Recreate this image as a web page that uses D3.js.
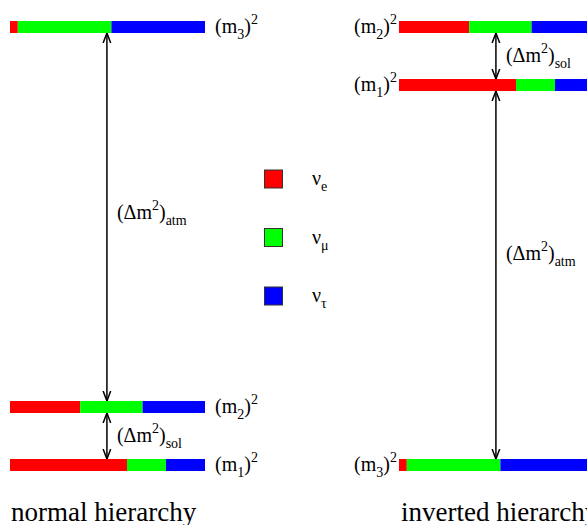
<!DOCTYPE html>
<html>
<head>
<meta charset="utf-8">
<script src="https://cdn.jsdelivr.net/npm/d3@7"></script>
<style>
  body { margin: 0; background: #fff; }
  svg, svg text { font-family: 'Liberation Serif', 'DejaVu Serif', serif; }
</style>
</head>
<body>
<div id="chart"></div>
<script>

// ======================= //
// DATA
// ======================= //

// flavours and their colours
var flavors = ["e", "μ", "τ"]
var flavorColors = ["#ff0000", "#00ff00", "#0000ff"]

// flavour content of each mass state (fractions)
var massStates = ["1", "2", "3"]
var fracE   = [0.60, 0.36, 0.04]
var fracMu  = [0.20, 0.32, 0.48]
var fracTau = [0.20, 0.32, 0.48]

// mass levels (arbitrary units, m² above the lowest state)
var levelsNormal   = [0, 1, 7.55]
var levelsInverted = [6.55, 7.55, 0]

// splittings drawn as arrows: [from state, to state, label]
var splitNormal   = [["1", "2", "sol"], ["2", "3", "atm"]]
var splitInverted = [["1", "2", "sol"], ["3", "1", "atm"]]

var hierarchyNames = ["normal hierarchy", "inverted hierarchy"]


// ======================= //
// SVG AREA AND SCALES
// ======================= //

var width = 587, height = 525
var serif = "'Liberation Serif', 'DejaVu Serif', serif"

var svg = d3.select("#chart")
  .append("svg")
    .attr("width", width)
    .attr("height", height)
    .attr("font-family", serif)

var y = d3.scaleLinear()
  .domain([0, 7.55])
  .range([465, 27])

var xNormal = d3.scaleLinear().domain([0, 1]).range([10, 205])
var xInverted = d3.scaleLinear().domain([0, 1]).range([399, 594])

var color = d3.scaleOrdinal().domain(flavors).range(flavorColors)

var barH = 12
var fontSize = 20

// stacked flavour fractions per mass state
var table = massStates.map(function(m, i) {
  return { state: m, "e": fracE[i], "μ": fracMu[i], "τ": fracTau[i] }
})
var stacked = d3.stack().keys(flavors)(table)

// arrowhead marker (open chevron)
svg.append("defs").append("marker")
    .attr("id", "arr")
    .attr("viewBox", "0 0 10 10")
    .attr("refX", 10)
    .attr("refY", 5)
    .attr("markerWidth", 10)
    .attr("markerHeight", 10)
    .attr("markerUnits", "userSpaceOnUse")
    .attr("orient", "auto-start-reverse")
  .append("path")
    .attr("d", "M0,1.2 L10,5 L0,8.8")
    .attr("fill", "none")
    .attr("stroke", "black")
    .attr("stroke-width", 1.5)

// text with sub / superscripts; parts = [[text, "sub"|"sup"|null], ...]
function richText(g, parts, xPos, yPos, anchor) {
  var t = g.append("text")
    .attr("x", xPos)
    .attr("y", yPos)
    .attr("font-family", serif)
    .attr("font-size", fontSize)
    .attr("text-anchor", anchor || "start")
    .attr("fill", "black")
  var shift = 0
  parts.forEach(function(p) {
    var target = p[1] == "sub" ? 6 : (p[1] == "sup" ? -9 : 0)
    t.append("tspan")
      .attr("dy", target - shift)
      .attr("font-size", p[1] ? 14 : fontSize)
      .text(p[0])
    shift = target
  })
  return t
}


// ======================= //
// ONE HIERARCHY PANEL
// ======================= //

function drawHierarchy(x, levels, splits, labelSide, name, nameX) {
  var g = svg.append("g")
  var levelOf = function(s) { return levels[massStates.indexOf(s)] }

  // bars
  g.selectAll("g.layer")
    .data(stacked)
    .enter().append("g")
      .attr("class", "layer")
      .attr("fill", function(d) { return color(d.key) })
    .selectAll("rect")
    .data(function(d) { return d })
    .enter().append("rect")
      .attr("x", function(d) { return x(d[0]) })
      .attr("width", function(d) { return x(d[1]) - x(d[0]) })
      .attr("y", function(d) { return y(levelOf(d.data.state)) - barH / 2 })
      .attr("height", barH)

  // level labels
  massStates.forEach(function(s) {
    var yy = y(levelOf(s)) + 6
    var parts = [["(m", null], [s, "sub"], [")", null], ["2", "sup"]]
    if (labelSide == "right") richText(g, parts, x(1) + 10, yy, "start")
    else richText(g, parts, x(0) - 2, yy, "end")
  })

  // splitting arrows
  var ax = x(0.497)
  splits.forEach(function(sp) {
    var yLow = y(levelOf(sp[0])) - barH / 2
    var yHigh = y(levelOf(sp[1])) + barH / 2
    g.append("line")
      .attr("x1", ax).attr("x2", ax)
      .attr("y1", yLow).attr("y2", yHigh)
      .attr("stroke", "black")
      .attr("stroke-width", 1.5)
      .attr("marker-start", "url(#arr)")
      .attr("marker-end", "url(#arr)")
    var mid = sp[2] == "atm" ? (yLow + yHigh) / 2 + 2 : (yLow + yHigh) / 2 + 6
    if (sp[2] == "atm" && labelSide == "left") mid -= 17
    richText(g, [["(Δm", null], ["2", "sup"], [")", null], [sp[2], "sub"]], ax + 10, mid, "start")
  })

  // name under the panel (cut by the bottom edge, as in the picture)
  g.append("text")
    .attr("x", nameX)
    .attr("y", 521)
    .attr("font-family", serif)
    .attr("font-size", 27)
    .text(name)
}

drawHierarchy(xNormal, levelsNormal, splitNormal, "right", hierarchyNames[0], 11)
drawHierarchy(xInverted, levelsInverted, splitInverted, "left", hierarchyNames[1], 401)


// ======================= //
// LEGEND
// ======================= //

var legend = svg.append("g")
var legY = d3.scalePoint().domain(flavors).range([179, 296])

flavors.forEach(function(f) {
  legend.append("rect")
    .attr("x", 264.5)
    .attr("y", legY(f) - 9)
    .attr("width", 18)
    .attr("height", 18)
    .attr("fill", color(f))
    .attr("stroke", "#333")
    .attr("stroke-width", 1)
  richText(legend, [["ν", null], [f, "sub"]], 312, legY(f) + 6, "start")
})

</script>
</body>
</html>
